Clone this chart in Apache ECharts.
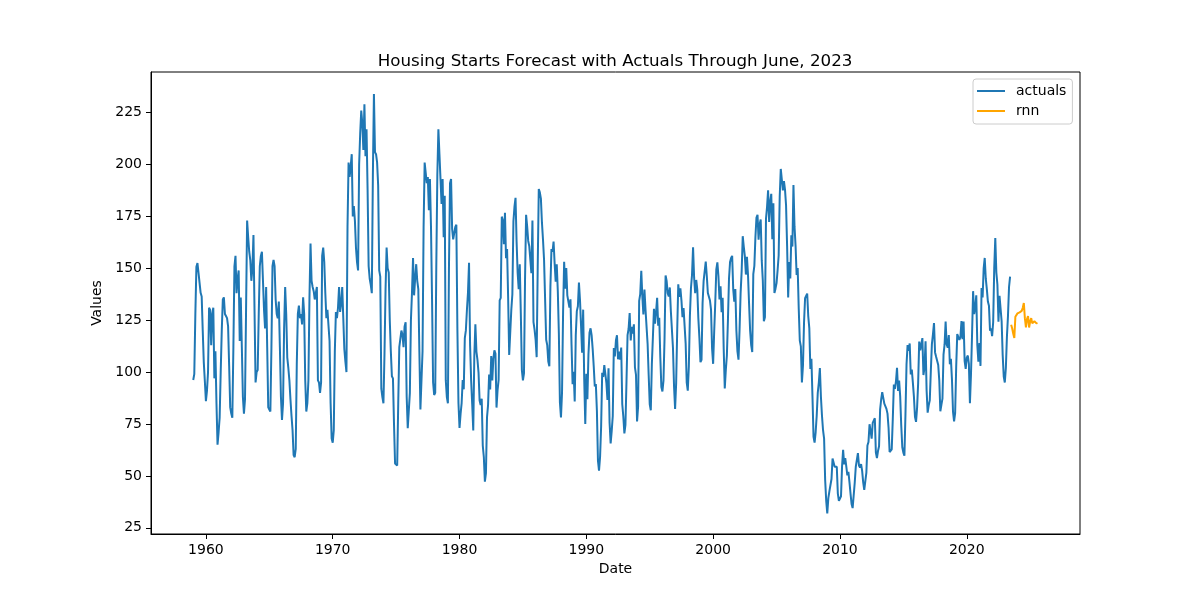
<!DOCTYPE html>
<html>
<head>
<meta charset="utf-8">
<script src="https://cdn.jsdelivr.net/npm/echarts@6/dist/echarts.min.js"></script>
<style>
  html, body { margin: 0; padding: 0; background: #fff; }
  #chart { width: 1200px; height: 600px; }
</style>
</head>
<body>
<div id="chart"></div>
<script>
// monthly housing starts, Jan 1959 .. Jun 2023 (one row per year)
const startYear = 1959;
const actuals = [
  96.2, 99.0, 127.7, 150.8, 152.5, 147.8, 148.1, 138.2, 136.4, 120.0, 104.7, 95.6, // 1959
  86, 91, 100, 131, 130, 113, 128, 131, 97, 110, 85, 65,                           // 1960
  71, 78, 100, 120, 135, 136, 128, 127, 126, 122, 103, 83,                         // 1961
  80, 78, 112, 151, 156, 138, 145, 149, 115, 136, 112, 88,                         // 1962
  80, 87, 130, 173, 165, 158, 154, 144, 150, 166, 130, 95,                         // 1963
  100, 101, 128, 151, 156, 158, 144, 130, 121, 141, 112, 83,                       // 1964
  82, 81, 112, 151, 154, 151, 135, 128, 126, 134, 112, 88,                         // 1965
  77, 85, 121, 141, 128, 107, 102, 96, 87, 79, 72, 60,                             // 1966
  59, 63, 104, 128, 132, 126, 128, 123, 136, 128, 96, 81,                          // 1967
  85, 96, 136, 162, 144, 141, 139, 135, 138, 141, 96, 95,                          // 1968
  90, 95, 156, 160, 153, 138, 126, 130, 130, 115, 85, 68,                          // 1969
  66, 72, 110, 129, 126, 131, 141, 129, 133, 141, 126, 111,                        // 1970
  105, 100, 170, 201, 194, 199, 205, 175, 180, 173, 160, 153,                      // 1971
  149, 200, 215, 226, 220, 207, 229, 204, 217, 188, 151, 145,                      // 1972
  142, 138, 195, 234, 206, 205, 201, 190, 149, 146, 92, 88,                        // 1973
  85, 109, 140, 160, 150, 148, 125, 110, 98, 97, 75, 56,                           // 1974
  56, 55, 85, 112, 116, 120, 118, 112, 122, 124, 88, 73,                           // 1975
  73, 90, 125, 138, 155, 137, 145, 152, 144, 140, 110, 82,                         // 1976
  82, 110, 170, 201, 196, 191, 194, 178, 193, 170, 135, 95,                        // 1977
  89, 90, 150, 195, 217, 205, 193, 181, 193, 165, 185, 96,                         // 1978
  88, 85, 150, 191, 193, 169, 164, 167, 170, 171, 120, 85,                         // 1979
  73.1, 79.9, 85.1, 96.2, 91.7, 116.4, 120.1, 129.9, 138.3, 152.7, 112.9, 95.9,    // 1980
  84.5, 71.9, 107.8, 123.0, 109.9, 105.8, 99.7, 86.3, 84.1, 87.2, 64.6, 59.1,      // 1981
  47.2, 51.3, 78.2, 84.1, 98.8, 91.6, 107.8, 96.0, 106.4, 110.5, 108.9, 82.9,      // 1982
  91.3, 96.3, 134.6, 135.8, 174.9, 173.2, 161.6, 176.8, 154.9, 159.3, 136.0, 108.3,// 1983
  109.1, 130.0, 137.5, 172.7, 179.7, 184.0, 162.8, 147.9, 140.0, 152.0, 128.3, 101.0, // 1984
  96.0, 99.4, 145.0, 175.8, 170.2, 163.2, 160.7, 160.7, 147.7, 173.0, 124.1, 120.5,// 1985
  115.6, 107.2, 151.0, 188.2, 186.6, 183.6, 172.0, 163.8, 154.0, 154.8, 115.6, 113.0, // 1986
  105.1, 102.8, 141.2, 159.3, 158.0, 162.9, 152.4, 143.6, 152.0, 139.1, 118.8, 85.4,  // 1987
  78.2, 90.2, 128.8, 153.2, 140.2, 150.2, 137.0, 136.8, 131.1, 135.1, 113.0, 94.2, // 1988
  100.1, 85.8, 117.8, 129.4, 131.7, 143.2, 134.7, 122.4, 109.3, 130.1, 96.6, 75.0, // 1989
  99.2, 86.9, 108.5, 119.0, 121.1, 117.8, 111.2, 102.8, 93.1, 94.2, 81.4, 57.4,    // 1990
  52.5, 59.1, 73.8, 99.7, 97.7, 103.4, 103.5, 94.7, 86.6, 101.8, 75.6, 65.6,       // 1991
  71.6, 78.8, 111.6, 107.6, 115.2, 117.8, 106.2, 109.9, 106.0, 111.8, 84.5, 78.6,  // 1992
  70.5, 74.6, 95.5, 117.8, 120.9, 128.5, 115.3, 121.8, 118.5, 123.0, 102.3, 98.7,  // 1993
  76.2, 83.5, 134.3, 137.6, 148.8, 136.4, 127.8, 139.8, 130.1, 130.6, 113.4, 98.5, // 1994
  84.5, 81.6, 103.8, 116.9, 130.5, 123.4, 129.1, 135.8, 122.4, 126.2, 107.2, 92.8, // 1995
  90.7, 95.9, 116.0, 146.6, 143.9, 138.0, 136.5, 140.8, 129.2, 130.1, 111.5, 93.1, // 1996
  82.2, 94.7, 120.4, 142.3, 136.3, 140.4, 134.6, 126.5, 130.9, 130.0, 113.6, 94.9, // 1997
  91.1, 102.7, 127.0, 140.4, 146.8, 160.2, 145.5, 138.0, 144.4, 139.8, 125.9, 116.5,  // 1998
  104.8, 105.9, 133.2, 144.0, 143.1, 153.3, 146.3, 138.1, 137.6, 134.5, 130.1, 111.3, // 1999
  104.0, 119.7, 133.4, 149.5, 152.9, 146.3, 135.0, 141.4, 128.9, 135.8, 111.1, 92.1,  // 2000
  101, 108, 125, 145, 153, 155, 156, 140, 134, 140, 120, 110,                      // 2001
  106, 120.4, 138.2, 148.8, 165.5, 160.3, 155.9, 147.0, 155.6, 146.8, 133.0, 120,  // 2002
  113, 109.7, 147.2, 151.2, 165.0, 174.5, 175.8, 163.8, 171.3, 173.5, 153.7, 144.2,   // 2003
  124.5, 126.4, 173.8, 179.5, 187.6, 172.3, 182.0, 185.9, 164.0, 181.3, 138.1, 140.2, // 2004
  142.9, 149.1, 156.2, 184.6, 197.9, 192.8, 187.6, 192.0, 187.9, 180.4, 160.7, 136.0, // 2005
  153.0, 145.1, 165.9, 160.5, 190.2, 170.2, 160.9, 146.8, 150.1, 130.6, 115.2, 112.4, // 2006
  95.0, 103.1, 123.8, 135.6, 136.5, 137.8, 127.0, 121.2, 101.5, 106.4, 88.2, 68.8, // 2007
  66, 71, 79, 90, 95, 102, 88, 79, 72, 68, 48, 38,                                 // 2008
  31.9, 39.3, 42.5, 42.6, 48.5, 58.4, 59.2, 54.4, 54.7, 54.4, 41.5, 38.0,          // 2009
  38.9, 40.2, 54.7, 62.6, 55.6, 58.5, 54.6, 50.3, 52.0, 47.0, 41.5, 36.5,          // 2010
  34.5, 35.4, 46.8, 54.5, 54.2, 61.0, 55.0, 54.0, 55.7, 52.4, 46.9, 43.3,          // 2011
  44.0, 51.6, 64.6, 66.3, 74.9, 71.7, 67.9, 75.5, 75.1, 77.8, 61.2, 58.6,          // 2012
  62.0, 64.3, 81.9, 86.8, 90.3, 87.6, 84.8, 85.6, 82.3, 80.0, 73.2, 61.5,          // 2013
  61.4, 62.8, 77.4, 94.0, 91.9, 95.5, 102.1, 90.9, 95.9, 88.3, 74.3, 63.8,         // 2014
  61.2, 59.7, 79.8, 103.8, 113.0, 110.2, 113.8, 98.9, 101.2, 94.9, 88.2, 78.5,     // 2015
  76.0, 82.9, 94.7, 114.7, 110.5, 109.9, 116.4, 98.6, 102.1, 114.8, 91.2, 80.5,    // 2016
  84.0, 86.4, 100.6, 113.5, 118.2, 123.6, 109.5, 107.4, 107.1, 103.4, 96.0, 81.1,  // 2017
  84.2, 87.2, 108.4, 113.2, 124.4, 113.3, 111.8, 117.9, 103.8, 106.4, 96.4, 80.8,  // 2018
  76.3, 80.2, 102.6, 118.3, 117.6, 115.5, 116.9, 124.6, 115.9, 124.4, 105.3, 101.6,// 2019
  107, 108, 104, 85, 99, 118, 139, 128, 131, 137, 113, 105,                        // 2020
  114, 103, 140.5, 136, 150, 155, 145, 140, 134, 132, 120, 121,                    // 2021
  117.3, 124.1, 150.3, 164.6, 148.0, 142.2, 124.3, 136.8, 136.4, 124.5, 108.2, 97.9,  // 2022
  95, 102, 117, 127, 141, 146                                                      // 2023 (Jan-Jun)
];

// rnn forecast, Jul 2023 onwards
const rnnStart = 2023 + 6 / 12;
const rnn = [
  122.8, 121.0, 118.5, 116.4, 126.7, 127.5,
  128.3, 128.0, 128.8, 128.5, 129.5, 131.0, 133.3, 126.0, 121.5, 125.5, 127.0, 121.5,
  124.5, 126.0, 123.5, 122.8, 124.5, 124.0, 123.5, 123.6
];

const xTicks = [1960, 1970, 1980, 1990, 2000, 2010, 2020];
const yTicks = [25, 50, 75, 100, 125, 150, 175, 200, 225];

const font = 'DejaVu Sans';
const actualPts = actuals.map((v, i) => [startYear + i / 12, v]);
const rnnPts = rnn.map((v, i) => [rnnStart + i / 12, v]);

const chart = echarts.init(document.getElementById('chart'));

const option = {
  animation: false,
  backgroundColor: '#fff',
  textStyle: { fontFamily: font },
  title: {
    text: 'Housing Starts Forecast with Actuals Through June, 2023',
    left: 610,
    textAlign: 'center',
    top: 48,
    textStyle: { fontFamily: font, fontSize: 16.7, fontWeight: 'normal', color: '#000' }
  },
  legend: {
    left: 973,
    top: 79,
    orient: 'vertical',
    data: [
      { name: 'actuals', icon: 'rect' },
      { name: 'rnn', icon: 'rect' }
    ],
    itemWidth: 28,
    itemHeight: 2,
    itemGap: 6,
    padding: [5, 6, 6, 4],
    borderColor: '#cccccc',
    borderWidth: 1,
    borderRadius: 3,
    textStyle: { fontFamily: font, fontSize: 14, color: '#000', lineHeight: 14, padding: [0, 0, 0, 6] }
  },
  grid: {
    left: 151,
    right: 120,
    top: 72,
    bottom: 66,
    show: true,
    borderColor: '#000',
    borderWidth: 1
  },
  xAxis: {
    type: 'value',
    min: 1955.67,
    max: 2028.93,
    name: 'Date',
    nameLocation: 'middle',
    nameGap: 28,
    nameTextStyle: { fontFamily: font, fontSize: 14, color: '#000' },
    axisLine: { show: true, lineStyle: { color: '#000', width: 1 } },
    axisTick: { show: true, length: 5, lineStyle: { color: '#000' }, customValues: xTicks },
    axisLabel: {
      customValues: xTicks,
      formatter: v => String(Math.round(v)),
      fontFamily: font, fontSize: 14, color: '#000', margin: 9
    },
    splitLine: { show: false }
  },
  yAxis: {
    type: 'value',
    min: 22.0,
    max: 244.6,
    name: 'Values',
    nameLocation: 'middle',
    nameGap: 46,
    nameRotate: 90,
    nameTextStyle: { fontFamily: font, fontSize: 14, color: '#000' },
    axisLine: { show: true, lineStyle: { color: '#000', width: 1 } },
    axisTick: { show: true, length: 5, lineStyle: { color: '#000' }, customValues: yTicks },
    axisLabel: { customValues: yTicks, fontFamily: font, fontSize: 14, color: '#000', margin: 9 },
    splitLine: { show: false }
  },
  series: [
    {
      name: 'actuals',
      type: 'line',
      data: actualPts,
      showSymbol: false,
      color: '#1f77b4',
      lineStyle: { color: '#1f77b4', width: 2 },
      itemStyle: { color: '#1f77b4' }
    },
    {
      name: 'rnn',
      type: 'line',
      data: rnnPts,
      showSymbol: false,
      color: '#ffa500',
      lineStyle: { color: '#ffa500', width: 2 },
      itemStyle: { color: '#ffa500' }
    }
  ]
};

chart.setOption(option);
</script>
</body>
</html>
